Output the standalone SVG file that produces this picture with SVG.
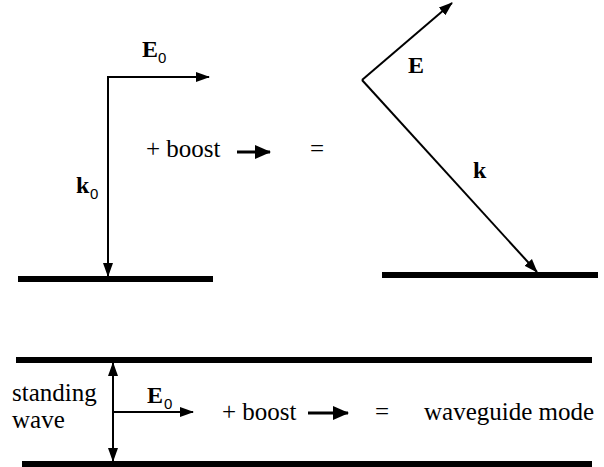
<svg xmlns="http://www.w3.org/2000/svg" width="604" height="467" viewBox="0 0 604 467">
<style>
text{fill:#000}
.t{font-size:25px}
.b{font-size:24px;font-weight:bold}
.s{font-size:15px}
.v{stroke:#000;stroke-width:2;fill:none}
.w{stroke:#000;stroke-width:6;fill:none}
.bo{stroke:#000;stroke-width:3;fill:none}
</style>
<defs>
<marker id="ah" markerUnits="userSpaceOnUse" markerWidth="14" markerHeight="12" viewBox="0 0 14 12" refX="13" refY="6" orient="auto-start-reverse">
<path d="M0,1 L14,6 L0,11 Z" fill="#000"/>
</marker>
<marker id="ahb" markerUnits="userSpaceOnUse" markerWidth="16" markerHeight="14" viewBox="0 0 16 14" refX="15" refY="7" orient="auto">
<path d="M0,0 L16,7 L0,14 Z" fill="#000"/>
</marker>
</defs>
<g id="walls">
<line class="w" x1="18" y1="279" x2="213" y2="279"/>
<line class="w" x1="382" y1="275" x2="598" y2="275"/>
<line class="w" x1="16" y1="360" x2="592" y2="360"/>
<line class="w" x1="22" y1="464" x2="592" y2="464"/>
</g>
<g id="connectors">
<line class="v" x1="108" y1="77" x2="108" y2="276" marker-end="url(#ah)"/>
<line class="v" x1="107" y1="77" x2="209" y2="77" marker-end="url(#ah)"/>
<line class="v" x1="362" y1="80" x2="452" y2="3" marker-end="url(#ah)"/>
<line class="v" x1="362" y1="80" x2="537" y2="272" marker-end="url(#ah)"/>
<line class="v" x1="113" y1="363" x2="113" y2="461" marker-start="url(#ah)" marker-end="url(#ah)"/>
<line class="v" x1="113" y1="412" x2="193" y2="412" marker-end="url(#ah)"/>
<line class="bo" x1="237" y1="152" x2="270" y2="152" marker-end="url(#ahb)"/>
<line class="bo" x1="308" y1="413" x2="348" y2="413" marker-end="url(#ahb)"/>
</g>
<g id="labels" font-family="Liberation Serif, Times New Roman, DejaVu Serif, serif">
<text class="b" x="142" y="57">E</text><text class="s" x="158" y="63" font-family="Liberation Sans, Arial, sans-serif">0</text>
<text class="b" x="76" y="193">k</text><text class="s" x="90" y="199" font-family="Liberation Sans, Arial, sans-serif">0</text>
<text class="t" x="146" y="157">+ boost</text>
<text class="t" x="310" y="157">=</text>
<text class="b" x="408" y="73">E</text>
<text class="b" x="473" y="178">k</text>
<text class="t" x="12" y="401">standing</text>
<text class="t" x="12" y="428">wave</text>
<text class="b" x="147" y="403">E</text><text class="s" x="164" y="409" font-family="Liberation Sans, Arial, sans-serif">0</text>
<text class="t" x="222" y="420">+ boost</text>
<text class="t" x="375" y="420">=</text>
<text class="t" x="424" y="420">waveguide mode</text>
</g>
</svg>
